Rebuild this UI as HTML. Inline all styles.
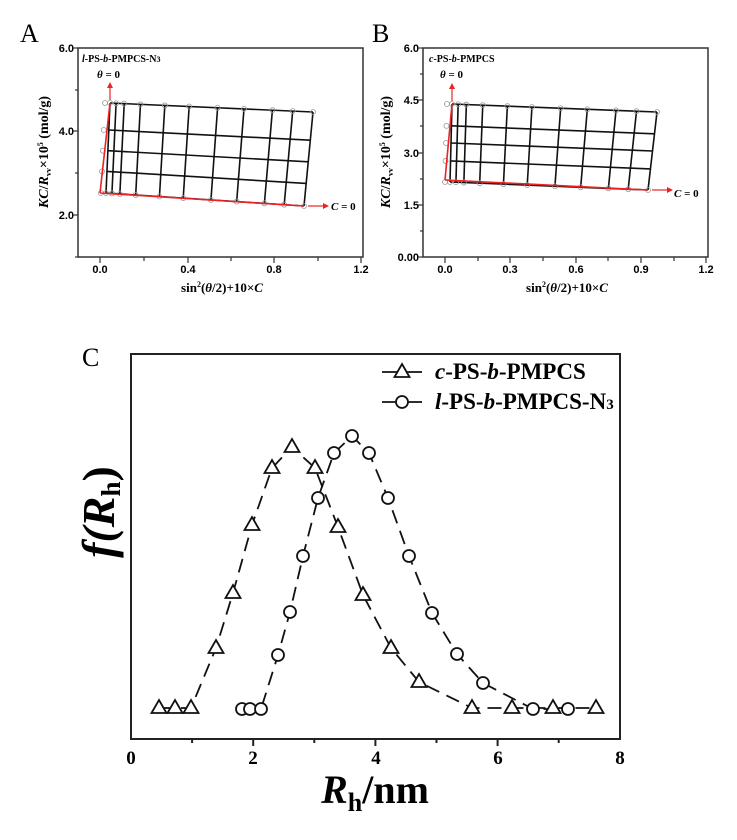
<!DOCTYPE html>
<html><head><meta charset="utf-8">
<style>
body{margin:0;background:#fff;}
</style></head><body>
<svg id="s" width="737" height="835" viewBox="0 0 737 835" xmlns="http://www.w3.org/2000/svg" font-family="Liberation Serif, serif">
<rect width="737" height="835" fill="#fff"/>
<!-- Panel A -->
<text x="20" y="42" font-size="26">A</text>
<rect x="78" y="48" width="285" height="209" fill="none" stroke="#333" stroke-width="1.5"/>
<g font-size="11" font-weight="bold" text-anchor="end" font-family="Liberation Sans, sans-serif">
<text x="74" y="52">6.0</text><text x="74" y="135">4.0</text><text x="74" y="219">2.0</text>
</g>
<g font-size="11" font-weight="bold" text-anchor="middle" font-family="Liberation Sans, sans-serif">
<text x="100" y="273">0.0</text><text x="188" y="273">0.4</text><text x="274" y="273">0.8</text><text x="361" y="273">1.2</text>
</g>
<text x="222" y="292" font-size="13" font-weight="bold" text-anchor="middle">sin<tspan font-size="8" dy="-5">2</tspan><tspan dy="5">(</tspan><tspan font-style="italic">θ</tspan>/2)+10×<tspan font-style="italic">C</tspan></text>
<text transform="translate(48,152) rotate(-90)" font-size="14" font-weight="bold" text-anchor="middle"><tspan font-style="italic">KC</tspan>/<tspan font-style="italic">R</tspan><tspan font-size="8" dy="3">vv</tspan><tspan dy="-3">×10</tspan><tspan font-size="8" dy="-5">5</tspan><tspan dy="5"> (mol/g)</tspan></text>
<text x="82" y="62" font-size="10" font-weight="bold"><tspan font-style="italic">l</tspan>-PS-<tspan font-style="italic">b</tspan>-PMPCS-N<tspan font-size="8">3</tspan></text>
<text x="97" y="78" font-size="11" font-weight="bold"><tspan font-style="italic">θ</tspan> = 0</text>
<text x="331" y="210" font-size="11" font-weight="bold"><tspan font-style="italic">C</tspan> = 0</text>
<g id="gA"></g>
<!-- Panel B -->
<text x="372" y="42" font-size="26">B</text>
<rect x="423" y="48" width="285" height="209" fill="none" stroke="#333" stroke-width="1.5"/>
<g font-size="11" font-weight="bold" text-anchor="end" font-family="Liberation Sans, sans-serif">
<text x="419" y="52">6.0</text><text x="419" y="104">4.5</text><text x="419" y="157">3.0</text><text x="419" y="209">1.5</text><text x="419" y="261">0.00</text>
</g>
<g font-size="11" font-weight="bold" text-anchor="middle" font-family="Liberation Sans, sans-serif">
<text x="445" y="273">0.0</text><text x="510" y="273">0.3</text><text x="576" y="273">0.6</text><text x="641" y="273">0.9</text><text x="706" y="273">1.2</text>
</g>
<text x="567" y="292" font-size="13" font-weight="bold" text-anchor="middle">sin<tspan font-size="8" dy="-5">2</tspan><tspan dy="5">(</tspan><tspan font-style="italic">θ</tspan>/2)+10×<tspan font-style="italic">C</tspan></text>
<text transform="translate(390,152) rotate(-90)" font-size="14" font-weight="bold" text-anchor="middle"><tspan font-style="italic">KC</tspan>/<tspan font-style="italic">R</tspan><tspan font-size="8" dy="3">vv</tspan><tspan dy="-3">×10</tspan><tspan font-size="8" dy="-5">5</tspan><tspan dy="5"> (mol/g)</tspan></text>
<text x="429" y="62" font-size="10" font-weight="bold"><tspan font-style="italic">c</tspan>-PS-<tspan font-style="italic">b</tspan>-PMPCS</text>
<text x="440" y="78" font-size="11" font-weight="bold"><tspan font-style="italic">θ</tspan> = 0</text>
<text x="674" y="197" font-size="11" font-weight="bold"><tspan font-style="italic">C</tspan> = 0</text>
<g id="gB"></g>
<!-- Panel C -->
<text x="82" y="366" font-size="26">C</text>
<rect x="131" y="354" width="489" height="385" fill="none" stroke="#222" stroke-width="2"/>
<g font-size="19" font-weight="bold" text-anchor="middle">
<text x="131" y="764">0</text><text x="253" y="764">2</text><text x="376" y="764">4</text><text x="498" y="764">6</text><text x="620" y="764">8</text>
</g>
<text x="375" y="803" font-size="40" font-weight="bold" text-anchor="middle"><tspan font-style="italic">R</tspan><tspan font-size="26" dy="8">h</tspan><tspan dy="-8">/nm</tspan></text>
<text transform="translate(114,512) rotate(-90)" font-size="46" font-weight="bold" text-anchor="middle" font-style="italic">f(R<tspan font-size="27" dy="6" font-style="normal">h</tspan><tspan dy="-6" font-style="normal">)</tspan></text>
<g font-size="23" font-weight="bold">
<text x="435" y="379"><tspan font-style="italic">c</tspan>-PS-<tspan font-style="italic">b</tspan>-PMPCS</text>
<text x="435" y="409"><tspan font-style="italic">l</tspan>-PS-<tspan font-style="italic">b</tspan>-PMPCS-N<tspan font-size="15">3</tspan></text>
</g>
<g id="gC"></g>
</svg>
<script>
var NS="http://www.w3.org/2000/svg";
function el(p,n,a){var e=document.createElementNS(NS,n);for(var k in a)e.setAttribute(k,a[k]);p.appendChild(e);return e;}
function grid(id,TL,TR,BR,BL,red0,hf,us,axis){
 var g=document.getElementById(id);
 function pt(u,v){var tx=TL[0]+(TR[0]-TL[0])*u,ty=TL[1]+(TR[1]-TL[1])*u,bx=BL[0]+(BR[0]-BL[0])*u,by=BL[1]+(BR[1]-BL[1])*u;return[tx+(bx-tx)*v,ty+(by-ty)*v];}
 hf.forEach(function(v){var a=pt(0,v),b=pt(1,v);el(g,"line",{x1:a[0],y1:a[1],x2:b[0],y2:b[1],stroke:"#111","stroke-width":1.6});});
 us.forEach(function(u){var a=pt(u,0),b=pt(u,1);el(g,"line",{x1:a[0],y1:a[1],x2:b[0],y2:b[1],stroke:"#111","stroke-width":1.6});});
 us.forEach(function(u){[0,1].forEach(function(v){var p=pt(u,v);el(g,"circle",{cx:p[0],cy:p[1],r:2.5,fill:"none",stroke:"#999","stroke-width":0.8});});});
 hf.forEach(function(v){var p=pt(0,v);el(g,"circle",{cx:p[0]-5,cy:p[1],r:2.5,fill:"none",stroke:"#999","stroke-width":0.8});});
 el(g,"line",{x1:red0[0],y1:red0[1],x2:TL[0],y2:TL[1],stroke:"#e22","stroke-width":1.6});
 el(g,"line",{x1:red0[0],y1:red0[1],x2:BR[0],y2:BR[1],stroke:"#e22","stroke-width":1.6});
 el(g,"line",{x1:TL[0],y1:TL[1]-3,x2:TL[0],y2:TL[1]-16,stroke:"#e22","stroke-width":1.2});
 el(g,"path",{d:"M"+(TL[0]-3)+" "+(TL[1]-15)+"L"+TL[0]+" "+(TL[1]-21)+"L"+(TL[0]+3)+" "+(TL[1]-15)+"Z",fill:"#e22"});
 el(g,"line",{x1:BR[0]+4,y1:BR[1],x2:BR[0]+20,y2:BR[1],stroke:"#e22","stroke-width":1.2});
 el(g,"path",{d:"M"+(BR[0]+19)+" "+(BR[1]-3)+"L"+(BR[0]+25)+" "+BR[1]+"L"+(BR[0]+19)+" "+(BR[1]+3)+"Z",fill:"#e22"});
 axis.x.forEach(function(x,i){el(g,"line",{x1:x,y1:257,x2:x,y2:i%2?261:263,stroke:"#333","stroke-width":1.2});});
 axis.y.forEach(function(y,i){el(g,"line",{x1:axis.L,y1:y,x2:axis.L-(i%2?3:5),y2:y,stroke:"#333","stroke-width":1.2});});
}
var us=[0,0.03,0.07,0.15,0.27,0.39,0.53,0.66,0.80,0.9,1];
grid("gA",[110,103],[313,112],[304,206],[106,193],[100,193],[0,0.3,0.53,0.76,1],us,
 {L:78,x:[100,144,188,231,274,318,361],y:[48,90,131,173,215,257]});
grid("gB",[452,104],[657,112],[648,190],[450,182],[445,180],[0,0.28,0.5,0.73,1],us,
 {L:423,x:[445,478,510,543,576,608,641,674,706],y:[48,74,100,126,153,179,205,231,257]});
var g=document.getElementById("gC");
for(var i=1;i<8;i++){var x=131+61.1*i;el(g,"line",{x1:x,y1:739,x2:x,y2:i%2?743:746,stroke:"#222","stroke-width":2});}
var T=[[159,708],[175,708],[191,708],[216,648],[233,593],[252,525],[272,468],[292,447],[315,468],[338,527],[363,595],[391,648],[419,682],[472,708],[512,708],[553,708],[596,708]];
var C=[[242,709],[250,709],[261,709],[278,655],[290,612],[303,556],[318,498],[334,453],[352,436],[369,453],[388,498],[409,556],[432,613],[457,654],[483,683],[533,709],[568,709]];
function line(P){return P.map(function(p){return p.join(",")}).join(" ");}
el(g,"polyline",{points:line(T),fill:"none",stroke:"#111","stroke-width":1.8,"stroke-dasharray":"14 8"});
el(g,"polyline",{points:line(C),fill:"none",stroke:"#111","stroke-width":1.8,"stroke-dasharray":"14 8"});
function tri(x,y){el(g,"path",{d:"M"+x+" "+(y-8)+"L"+(x+7.5)+" "+(y+5)+"L"+(x-7.5)+" "+(y+5)+"Z",fill:"#fff",stroke:"#111","stroke-width":1.8});}
function circ(x,y){el(g,"circle",{cx:x,cy:y,r:6,fill:"#fff",stroke:"#111","stroke-width":1.8});}
T.forEach(function(p){tri(p[0],p[1]);});
C.forEach(function(p){circ(p[0],p[1]);});
el(g,"line",{x1:382,y1:372,x2:422,y2:372,stroke:"#111","stroke-width":1.8});tri(402,372);
el(g,"line",{x1:382,y1:402,x2:422,y2:402,stroke:"#111","stroke-width":1.8});circ(402,402);
</script>
</body></html>
